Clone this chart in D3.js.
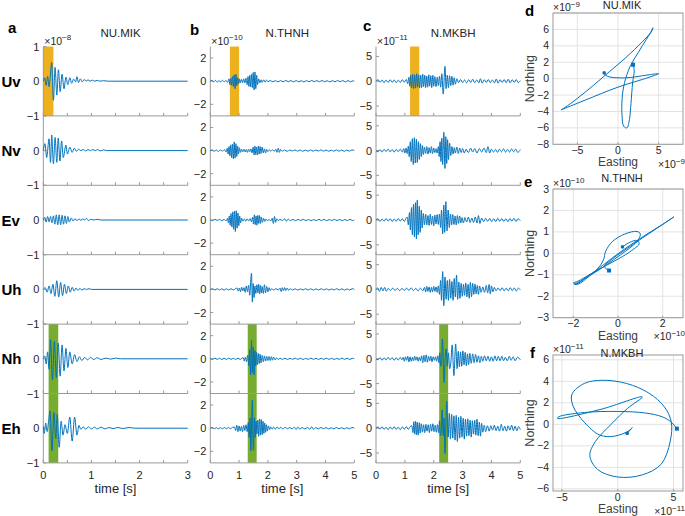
<!DOCTYPE html>
<html><head><meta charset="utf-8">
<script src="https://cdn.jsdelivr.net/npm/d3@7"></script>
<style>body{margin:0;background:#fff}svg{display:block}text{font-family:"Liberation Sans",Arial,sans-serif}</style>
</head><body><svg id="chart" width="685" height="516"></svg>
<script>
// ---------------- DATA ----------------
const components = ["Uv","Nv","Ev","Uh","Nh","Eh"];
const stations = ["NU.MIK","N.THNH","N.MKBH"];
const panelLetters = ["a","b","c"];
const hodoLetters = ["d","e","f"];
const timeMax = [3,5,5];
const timeTicks = [[0,0.5,1,1.5,2,2.5,3],[0,1,2,3,4,5],[0,1,2,3,4,5]];
const timeTickLabels = [[0,1,2,3],[0,1,2,3,4,5],[0,1,2,3,4,5]];
const ampMax = [1,3,7];
const ampTicks = [[-1,0,1],[-2,0,2],[-5,0,5]];
const ampExponent = [-8,-10,-11];
const pWindow = [[0,0.21],[0.68,1.0],[1.18,1.5]];   // orange (Uv)
const sWindow = [[0.11,0.31],[1.3,1.61],[2.19,2.5]]; // green (Nh, Eh)

// NU.MIK  (x1e-8)
const mikUv = [[0,0],[0.03,0.1],[0.06,-0.12],[0.09,0.14],[0.12,-0.16],[0.145,0.15],[0.175,0.54],[0.21,-0.55],[0.245,0.4],[0.28,-0.4],[0.315,0.33],[0.35,-0.3],[0.39,0.2],[0.43,-0.22],[0.47,0.12],[0.51,-0.1],[0.55,0.1],[0.59,-0.06],[0.63,0.06],[0.67,-0.02],[0.7,0.13],[0.73,-0.04],[0.77,0.07],[0.81,-0.02],[0.85,0.05],[0.89,0],[0.93,0.04],[0.97,0],[1.02,0.03],[1.07,0],[1.12,0.025],[1.18,0],[1.25,0.015],[1.35,0],[3,0]];
const mikNv = [[0,0],[0.035,0.2],[0.07,-0.2],[0.12,0.34],[0.15,-0.34],[0.175,0.45],[0.21,-0.38],[0.245,0.38],[0.28,-0.34],[0.31,0.36],[0.345,-0.3],[0.38,0.28],[0.415,-0.2],[0.47,0.16],[0.5,-0.1],[0.55,0.1],[0.6,-0.05],[0.645,0.07],[0.69,-0.02],[0.73,0.04],[0.78,0],[0.83,0.03],[0.88,-0.01],[0.93,0.03],[0.98,0],[1.03,0.03],[1.08,0],[1.13,0.03],[1.18,-0.01],[1.25,0.02],[1.32,0],[3,0]];
const mikEv = [[0,0],[0.03,0.08],[0.06,-0.06],[0.09,0.1],[0.12,-0.05],[0.15,0.1],[0.18,-0.08],[0.21,0.12],[0.24,-0.12],[0.27,0.15],[0.3,-0.14],[0.33,0.15],[0.36,-0.14],[0.39,0.14],[0.42,-0.12],[0.45,0.12],[0.48,-0.1],[0.51,0.1],[0.54,-0.06],[0.58,0.06],[0.62,-0.03],[0.66,0.04],[0.7,-0.02],[0.74,0.03],[0.78,-0.01],[0.82,0.03],[0.86,0],[0.9,0.05],[0.94,-0.02],[0.98,0.02],[1.05,0],[1.12,0.02],[1.2,0],[3,0]];
const mikUh = [[0,0],[0.04,0.05],[0.08,-0.08],[0.12,0.1],[0.16,-0.12],[0.2,0.15],[0.24,-0.2],[0.28,0.25],[0.32,-0.22],[0.36,0.2],[0.4,-0.18],[0.44,0.15],[0.48,-0.12],[0.52,0.1],[0.56,-0.08],[0.6,0.06],[0.64,-0.05],[0.68,0.04],[0.72,-0.03],[0.76,0.03],[0.8,-0.02],[0.85,0.02],[0.9,0],[0.95,0.02],[1.0,0],[3,0]];
const mikNh = [[0,0],[0.03,0.08],[0.06,-0.15],[0.09,0.2],[0.12,-0.3],[0.15,0.55],[0.19,-0.6],[0.23,0.5],[0.27,-0.55],[0.31,0.45],[0.35,-0.5],[0.39,0.4],[0.43,-0.35],[0.47,0.3],[0.51,-0.25],[0.55,0.2],[0.6,-0.15],[0.65,0.12],[0.7,-0.08],[0.75,0.06],[0.8,-0.05],[0.86,0.04],[0.92,-0.03],[0.98,0.04],[1.05,-0.02],[1.12,0.03],[1.2,-0.02],[1.3,0.02],[1.4,-0.01],[1.5,0.02],[1.6,0],[3,0]];
const mikEh = [[0,0.05],[0.02,-0.15],[0.05,0.15],[0.08,-0.1],[0.11,0.2],[0.14,0.5],[0.18,-0.65],[0.22,0.45],[0.26,-0.3],[0.29,0.4],[0.33,-0.55],[0.37,0.2],[0.41,-0.2],[0.45,0.1],[0.5,-0.15],[0.55,0.32],[0.6,-0.37],[0.65,0.32],[0.7,-0.2],[0.74,0.08],[0.78,-0.03],[0.83,0.04],[0.88,-0.03],[0.94,0.04],[1.0,-0.02],[1.06,0.03],[1.12,-0.02],[1.2,0.03],[1.28,-0.02],[1.36,0.02],[1.45,-0.01],[1.55,0.02],[1.65,-0.01],[1.78,0.02],[1.9,0],[3,0]];

// N.THNH  (x1e-10)
const thnUv = [[0,0],[0.06,0.08],[0.12,-0.06],[0.18,0.07],[0.24,-0.08],[0.3,0.06],[0.36,-0.07],[0.42,0.08],[0.48,-0.06],[0.54,0.07],[0.6,-0.1],[0.65,0.2],[0.68,-0.3],[0.71,0.25],[0.74,-0.35],[0.77,0.4],[0.8,-0.45],[0.83,0.55],[0.86,-0.65],[0.89,0.6],[0.92,-0.4],[0.95,0.3],[0.98,-0.25],[1.01,0.2],[1.04,-0.15],[1.08,0.15],[1.12,-0.12],[1.16,0.2],[1.2,-0.15],[1.24,0.25],[1.28,-0.3],[1.31,0.4],[1.34,-0.45],[1.37,0.5],[1.4,-0.5],[1.43,0.6],[1.46,-0.55],[1.49,0.75],[1.52,-0.75],[1.55,0.8],[1.58,-0.65],[1.61,0.5],[1.64,-0.3],[1.68,0.2],[1.72,-0.15],[1.76,0.12],[1.8,-0.1],[1.85,0.12],[1.9,-0.08],[1.95,0.1],[2.0,-0.05],[2.08,0.06],[2.17,-0.05],[2.26,0.05],[2.35,-0.06],[2.44,0.05],[2.53,-0.05],[2.62,0.06],[2.71,-0.04],[2.8,0.05],[2.89,-0.06],[2.98,0.05],[3.07,-0.05],[3.16,0.04],[3.25,-0.06],[3.34,0.05],[3.43,-0.05],[3.52,0.06],[3.61,-0.04],[3.7,0.05],[3.79,-0.05],[3.88,0.06],[3.97,-0.05],[4.06,0.04],[4.15,-0.06],[4.24,0.05],[4.33,-0.05],[4.42,0.06],[4.51,-0.04],[4.6,0.05],[4.69,-0.06],[4.78,0.05],[4.87,-0.05],[4.96,0.04],[5,0]];
const thnNv = [[0,0],[0.07,0.05],[0.14,-0.06],[0.21,0.05],[0.28,-0.07],[0.35,0.06],[0.42,-0.05],[0.49,0.08],[0.55,-0.12],[0.59,0.2],[0.62,-0.3],[0.65,0.35],[0.68,-0.45],[0.71,0.5],[0.74,-0.6],[0.77,0.55],[0.8,-0.7],[0.83,0.75],[0.86,-0.65],[0.89,0.6],[0.92,-0.5],[0.95,0.4],[0.98,-0.3],[1.01,0.25],[1.05,-0.15],[1.09,0.12],[1.13,-0.1],[1.17,0.12],[1.21,-0.12],[1.25,0.1],[1.29,-0.15],[1.33,0.12],[1.37,-0.1],[1.41,0.15],[1.45,-0.2],[1.49,0.3],[1.52,-0.38],[1.55,0.4],[1.58,-0.35],[1.61,0.3],[1.64,-0.38],[1.67,0.4],[1.7,-0.3],[1.73,0.35],[1.76,-0.25],[1.8,0.3],[1.84,-0.2],[1.88,0.15],[1.92,-0.2],[1.96,0.1],[2.0,-0.08],[2.05,0.06],[2.1,-0.05],[2.16,0.07],[2.22,-0.06],[2.28,0.1],[2.32,-0.15],[2.36,0.2],[2.4,-0.15],[2.44,0.1],[2.5,-0.05],[2.58,0.05],[2.67,-0.06],[2.76,0.05],[2.85,-0.04],[2.94,0.06],[3.03,-0.05],[3.12,0.05],[3.21,-0.06],[3.3,0.04],[3.39,-0.05],[3.48,0.06],[3.57,-0.05],[3.66,0.05],[3.75,-0.04],[3.84,0.06],[3.93,-0.05],[4.02,0.05],[4.11,-0.06],[4.2,0.04],[4.29,-0.05],[4.38,0.06],[4.47,-0.05],[4.56,0.05],[4.65,-0.06],[4.74,0.04],[4.83,-0.05],[4.92,0.06],[5,0]];
const thnEv = [[0,0],[0.08,-0.05],[0.16,0.06],[0.24,-0.04],[0.32,0.06],[0.4,-0.06],[0.48,0.05],[0.55,-0.08],[0.6,0.15],[0.63,-0.25],[0.66,0.35],[0.69,-0.45],[0.72,0.55],[0.75,-0.6],[0.78,0.7],[0.81,-0.8],[0.84,0.75],[0.87,-1.0],[0.9,0.8],[0.93,-0.7],[0.96,0.6],[0.99,-0.5],[1.02,0.35],[1.05,-0.25],[1.09,0.15],[1.13,-0.1],[1.18,0.08],[1.23,-0.1],[1.28,0.1],[1.33,-0.08],[1.38,0.12],[1.43,-0.15],[1.47,0.25],[1.5,-0.35],[1.53,0.45],[1.56,-0.4],[1.59,0.35],[1.62,-0.45],[1.65,0.4],[1.68,-0.3],[1.71,0.38],[1.74,-0.3],[1.77,0.25],[1.81,-0.2],[1.85,0.15],[1.89,-0.12],[1.93,0.08],[1.98,-0.06],[2.04,0.05],[2.1,-0.08],[2.15,0.15],[2.19,-0.3],[2.23,0.3],[2.27,-0.2],[2.31,0.1],[2.36,-0.05],[2.42,0.06],[2.5,-0.05],[2.58,0.1],[2.64,-0.1],[2.7,0.08],[2.78,-0.05],[2.87,0.05],[2.96,-0.06],[3.05,0.05],[3.14,-0.04],[3.23,0.06],[3.32,-0.05],[3.41,0.05],[3.5,-0.06],[3.59,0.04],[3.68,-0.05],[3.77,0.06],[3.86,-0.05],[3.95,0.05],[4.04,-0.06],[4.13,0.04],[4.22,-0.05],[4.31,0.06],[4.4,-0.05],[4.49,0.05],[4.58,-0.06],[4.67,0.04],[4.76,-0.05],[4.85,0.06],[4.94,-0.05],[5,0]];
const thnUh = [[0,0],[0.08,0.05],[0.16,-0.05],[0.24,0.06],[0.32,-0.04],[0.4,0.05],[0.48,-0.06],[0.56,0.05],[0.64,-0.05],[0.72,0.06],[0.8,-0.05],[0.87,0.06],[0.93,0.12],[0.97,-0.15],[1.01,0.12],[1.05,-0.2],[1.09,0.18],[1.13,-0.12],[1.17,0.15],[1.21,-0.25],[1.25,0.3],[1.29,-0.2],[1.33,0.35],[1.37,-0.5],[1.4,0.6],[1.43,1.4],[1.46,-1.1],[1.49,0.5],[1.52,-0.7],[1.55,0.3],[1.58,-0.35],[1.62,0.4],[1.65,-0.3],[1.68,0.45],[1.71,-0.4],[1.74,0.35],[1.77,-0.3],[1.8,0.25],[1.84,-0.35],[1.88,0.4],[1.92,-0.3],[1.96,0.25],[2.0,-0.2],[2.04,0.15],[2.08,-0.1],[2.13,0.06],[2.2,-0.05],[2.28,0.06],[2.36,-0.05],[2.42,0.12],[2.46,-0.18],[2.5,0.15],[2.54,-0.12],[2.58,0.15],[2.62,-0.1],[2.67,0.12],[2.72,-0.08],[2.78,0.06],[2.86,-0.05],[2.95,0.05],[3.04,-0.06],[3.13,0.04],[3.22,-0.05],[3.31,0.06],[3.4,-0.05],[3.49,0.05],[3.58,-0.06],[3.67,0.04],[3.76,-0.05],[3.85,0.06],[3.94,-0.05],[4.03,0.05],[4.12,-0.06],[4.21,0.04],[4.3,-0.05],[4.39,0.06],[4.48,-0.05],[4.57,0.05],[4.66,-0.06],[4.75,0.04],[4.84,-0.05],[4.93,0.06],[5,0]];
const thnNh = [[0,0],[0.08,-0.05],[0.16,0.06],[0.24,-0.05],[0.32,0.05],[0.4,-0.06],[0.48,0.04],[0.56,-0.05],[0.64,0.06],[0.72,-0.05],[0.8,0.05],[0.88,-0.06],[0.96,0.05],[1.04,-0.06],[1.1,0.06],[1.14,0.1],[1.18,-0.2],[1.22,0.15],[1.26,-0.25],[1.3,0.3],[1.34,-0.6],[1.37,0.8],[1.4,-1.4],[1.43,1.6],[1.46,-1.2],[1.49,1.0],[1.52,-1.4],[1.55,0.7],[1.58,-0.6],[1.61,0.55],[1.64,-0.5],[1.67,0.45],[1.7,-0.4],[1.73,0.4],[1.76,-0.35],[1.8,0.3],[1.84,-0.25],[1.88,0.25],[1.92,-0.2],[1.96,0.2],[2.0,-0.15],[2.04,0.2],[2.08,-0.15],[2.12,0.18],[2.16,-0.12],[2.2,0.15],[2.25,-0.1],[2.3,0.08],[2.36,-0.06],[2.42,0.06],[2.5,-0.05],[2.59,0.05],[2.68,-0.06],[2.77,0.04],[2.86,-0.05],[2.95,0.06],[3.04,-0.05],[3.13,0.05],[3.22,-0.06],[3.31,0.04],[3.4,-0.05],[3.49,0.06],[3.58,-0.05],[3.67,0.05],[3.76,-0.06],[3.85,0.04],[3.94,-0.05],[4.03,0.06],[4.12,-0.05],[4.21,0.05],[4.3,-0.06],[4.39,0.04],[4.48,-0.05],[4.57,0.06],[4.66,-0.05],[4.75,0.05],[4.84,-0.06],[4.93,0.04],[5,0]];
const thnEh = [[0,0],[0.07,0.06],[0.14,-0.05],[0.21,0.05],[0.28,-0.06],[0.35,0.05],[0.42,-0.05],[0.49,0.06],[0.56,-0.05],[0.63,0.06],[0.7,-0.05],[0.77,0.07],[0.84,0.1],[0.88,-0.2],[0.92,0.25],[0.96,-0.3],[1.0,0.2],[1.04,-0.25],[1.08,0.15],[1.12,-0.3],[1.16,0.25],[1.2,-0.2],[1.24,0.3],[1.28,-0.3],[1.32,0.5],[1.35,-0.8],[1.38,0.9],[1.41,-1.95],[1.44,1.2],[1.46,2.45],[1.48,-1.0],[1.5,-1.9],[1.53,0.9],[1.56,-0.8],[1.59,0.6],[1.62,-0.5],[1.65,0.7],[1.68,-0.7],[1.71,0.8],[1.74,-0.6],[1.77,0.75],[1.8,-0.55],[1.83,0.6],[1.86,-0.45],[1.89,0.45],[1.92,-0.35],[1.95,0.3],[1.98,-0.25],[2.02,0.2],[2.06,-0.12],[2.1,0.1],[2.15,-0.08],[2.2,0.1],[2.26,-0.08],[2.32,0.1],[2.38,-0.06],[2.44,0.08],[2.52,-0.06],[2.6,0.07],[2.68,-0.05],[2.76,0.06],[2.84,-0.06],[2.92,0.08],[2.98,-0.12],[3.04,0.1],[3.1,-0.06],[3.19,0.05],[3.28,-0.06],[3.37,0.05],[3.46,-0.08],[3.52,0.12],[3.58,-0.08],[3.66,0.05],[3.75,-0.05],[3.84,0.06],[3.93,-0.05],[4.02,0.05],[4.11,-0.06],[4.2,0.04],[4.29,-0.05],[4.38,0.06],[4.47,-0.05],[4.56,0.05],[4.65,-0.06],[4.74,0.04],[4.83,-0.05],[4.92,0.06],[5,0]];

// N.MKBH  (x1e-11)
const mkbUv = [[0,0],[0.07,0.3],[0.14,-0.2],[0.21,0.25],[0.28,-0.3],[0.35,0.2],[0.42,-0.25],[0.49,0.3],[0.56,-0.2],[0.63,0.25],[0.7,-0.3],[0.77,0.2],[0.84,-0.25],[0.91,0.3],[0.98,-0.2],[1.05,0.35],[1.1,-0.5],[1.14,0.8],[1.17,-1.0],[1.2,1.2],[1.23,-1.3],[1.27,1.4],[1.3,-1.5],[1.34,1.3],[1.37,-1.4],[1.41,1.5],[1.44,-1.2],[1.48,1.3],[1.51,-1.4],[1.55,1.2],[1.58,-1.3],[1.62,1.4],[1.65,-1.1],[1.69,1.2],[1.72,-1.3],[1.76,1.0],[1.79,-1.2],[1.83,1.3],[1.86,-1.0],[1.9,1.1],[1.93,-1.3],[1.97,1.2],[2.0,-1.0],[2.04,0.9],[2.08,-1.1],[2.12,0.8],[2.16,-0.9],[2.2,1.0],[2.24,-1.2],[2.28,1.5],[2.33,-2.6],[2.39,3.0],[2.43,-1.5],[2.47,1.2],[2.51,-1.3],[2.55,1.1],[2.59,-0.9],[2.63,1.0],[2.67,-0.8],[2.71,0.7],[2.75,-0.6],[2.8,0.5],[2.86,-0.3],[2.93,0.35],[3.0,-0.3],[3.07,0.25],[3.14,-0.35],[3.21,0.3],[3.28,-0.25],[3.35,0.4],[3.42,-0.3],[3.49,0.25],[3.56,-0.35],[3.62,0.5],[3.68,-0.4],[3.75,0.3],[3.82,-0.25],[3.89,0.35],[3.96,-0.3],[4.03,0.25],[4.1,-0.35],[4.17,0.45],[4.23,-0.4],[4.3,0.3],[4.37,-0.25],[4.44,0.35],[4.51,-0.3],[4.58,0.4],[4.65,-0.35],[4.72,0.3],[4.79,-0.25],[4.86,0.35],[4.93,-0.3],[5,0.1]];
const mkbNv = [[0,0],[0.07,-0.25],[0.14,0.2],[0.21,-0.3],[0.28,0.25],[0.35,-0.2],[0.42,0.3],[0.49,-0.25],[0.56,0.2],[0.63,-0.3],[0.7,0.25],[0.77,-0.2],[0.84,0.3],[0.91,-0.3],[0.96,0.4],[1.0,-0.5],[1.04,0.5],[1.08,-0.6],[1.12,0.9],[1.15,-1.2],[1.19,1.8],[1.22,-2.2],[1.26,2.4],[1.29,-2.8],[1.33,2.6],[1.36,-2.5],[1.4,2.3],[1.43,-2.4],[1.47,1.8],[1.5,-1.8],[1.54,1.4],[1.57,-1.2],[1.61,1.0],[1.64,-0.8],[1.68,0.7],[1.72,-0.6],[1.76,0.8],[1.8,-0.7],[1.84,0.6],[1.88,-0.5],[1.92,0.8],[1.96,-0.6],[2.0,0.5],[2.04,-0.4],[2.08,0.4],[2.12,-0.5],[2.16,0.8],[2.19,-1.2],[2.22,1.8],[2.25,-2.2],[2.28,2.5],[2.31,-2.8],[2.35,3.7],[2.39,-3.6],[2.42,2.8],[2.45,-2.6],[2.48,2.2],[2.51,-1.8],[2.55,1.5],[2.59,-1.0],[2.63,0.8],[2.67,-0.7],[2.71,0.6],[2.75,-0.5],[2.8,0.7],[2.85,-0.6],[2.9,0.5],[2.95,-0.4],[3.0,0.4],[3.06,-0.5],[3.12,0.3],[3.2,-0.4],[3.28,0.5],[3.35,-0.3],[3.42,0.4],[3.5,-0.5],[3.58,0.4],[3.66,-0.3],[3.74,0.5],[3.82,-0.4],[3.88,0.8],[3.94,-0.5],[4.0,0.3],[4.07,-0.3],[4.14,0.25],[4.21,-0.35],[4.28,0.3],[4.35,-0.25],[4.42,0.35],[4.49,-0.3],[4.56,0.25],[4.63,-0.3],[4.7,0.35],[4.77,-0.25],[4.84,0.3],[4.91,-0.35],[5,0.2]];
const mkbEv = [[0,0],[0.07,0.25],[0.14,-0.3],[0.21,0.2],[0.28,-0.25],[0.35,0.3],[0.42,-0.2],[0.49,0.25],[0.56,-0.3],[0.63,0.2],[0.7,-0.25],[0.77,0.3],[0.84,-0.2],[0.91,0.25],[0.98,-0.3],[1.04,0.35],[1.08,0.6],[1.12,-1.0],[1.16,1.5],[1.19,-2.0],[1.23,2.5],[1.26,-3.0],[1.3,3.2],[1.33,-3.4],[1.37,3.5],[1.4,-3.8],[1.43,4.0],[1.46,-3.0],[1.5,2.8],[1.53,-2.5],[1.57,2.0],[1.6,-1.6],[1.64,1.3],[1.68,-1.0],[1.72,1.2],[1.76,-1.0],[1.8,0.9],[1.84,-1.1],[1.88,1.2],[1.92,-0.9],[1.96,0.8],[2.0,-1.2],[2.04,1.0],[2.08,-0.8],[2.12,1.1],[2.16,-0.9],[2.2,1.2],[2.24,-1.5],[2.27,2.0],[2.31,-2.8],[2.35,3.0],[2.38,-2.5],[2.42,3.7],[2.46,-2.2],[2.5,2.0],[2.54,-1.5],[2.58,1.2],[2.62,-1.0],[2.66,1.1],[2.7,-0.9],[2.74,0.8],[2.78,-1.0],[2.82,0.9],[2.86,-0.7],[2.9,0.8],[2.94,-0.6],[2.98,0.5],[3.03,-0.6],[3.08,0.5],[3.14,-0.4],[3.2,0.6],[3.26,-0.5],[3.32,0.4],[3.38,-0.5],[3.44,0.6],[3.5,-0.6],[3.55,0.9],[3.6,-0.7],[3.66,0.4],[3.73,-0.3],[3.8,0.35],[3.87,-0.25],[3.94,0.3],[4.01,-0.35],[4.08,0.25],[4.15,-0.3],[4.22,0.35],[4.29,-0.25],[4.36,0.3],[4.43,-0.3],[4.5,0.25],[4.57,-0.35],[4.64,0.3],[4.71,-0.25],[4.78,0.35],[4.85,-0.3],[4.92,0.25],[5,-0.1]];
const mkbUh = [[0,0],[0.06,0.3],[0.12,-0.4],[0.18,0.4],[0.24,-0.3],[0.3,0.4],[0.36,-0.35],[0.42,0.2],[0.5,-0.2],[0.58,0.25],[0.66,-0.2],[0.74,0.2],[0.82,-0.25],[0.9,0.2],[0.98,-0.2],[1.06,0.25],[1.14,-0.2],[1.22,0.3],[1.3,-0.25],[1.38,0.2],[1.46,-0.3],[1.54,0.25],[1.62,-0.3],[1.68,0.4],[1.72,-0.5],[1.76,0.6],[1.8,-0.4],[1.84,0.5],[1.88,-0.6],[1.92,0.4],[1.96,-0.5],[2.0,0.6],[2.04,-0.4],[2.08,0.5],[2.12,-0.6],[2.16,0.7],[2.2,-1.0],[2.24,1.8],[2.27,-2.2],[2.31,3.6],[2.35,-3.3],[2.39,2.5],[2.43,-2.0],[2.47,1.8],[2.51,-2.2],[2.55,2.0],[2.59,-1.8],[2.63,1.6],[2.67,-2.2],[2.71,2.2],[2.75,-1.5],[2.79,2.9],[2.83,-2.0],[2.87,1.5],[2.91,-1.8],[2.95,1.2],[2.99,-1.4],[3.03,1.0],[3.07,-1.2],[3.11,1.3],[3.15,-1.5],[3.19,1.0],[3.23,-1.8],[3.27,1.4],[3.31,-1.5],[3.35,1.2],[3.39,-1.0],[3.43,1.1],[3.47,-0.9],[3.51,0.8],[3.55,-1.0],[3.59,0.7],[3.64,-0.6],[3.7,0.5],[3.76,-0.6],[3.82,0.8],[3.87,-0.7],[3.92,1.0],[3.96,-0.9],[4.0,0.7],[4.05,-0.5],[4.1,0.4],[4.16,-0.3],[4.23,0.3],[4.3,-0.25],[4.37,0.35],[4.44,-0.3],[4.51,0.25],[4.58,-0.3],[4.65,0.35],[4.72,-0.25],[4.79,0.3],[4.86,-0.35],[4.93,0.25],[5,-0.1]];
const mkbNh = [[0,0],[0.07,-0.2],[0.14,0.25],[0.21,-0.3],[0.28,0.2],[0.35,-0.25],[0.42,0.3],[0.49,-0.2],[0.56,0.25],[0.63,-0.3],[0.7,0.2],[0.77,-0.25],[0.84,0.3],[0.9,-0.2],[0.94,0.3],[0.98,-0.5],[1.02,0.4],[1.06,-0.3],[1.1,0.5],[1.14,-0.6],[1.18,0.4],[1.22,-0.5],[1.26,0.3],[1.3,-0.4],[1.34,0.5],[1.38,-0.3],[1.42,0.4],[1.46,-0.5],[1.5,0.3],[1.54,-0.4],[1.58,0.6],[1.62,-0.8],[1.66,0.7],[1.7,-0.6],[1.74,0.8],[1.78,-0.7],[1.82,0.5],[1.86,-0.4],[1.9,0.5],[1.94,-0.6],[1.98,0.4],[2.02,-0.3],[2.06,0.4],[2.1,-0.5],[2.14,0.6],[2.18,-0.8],[2.21,1.2],[2.24,-1.5],[2.27,-1.2],[2.3,4.0],[2.36,-4.8],[2.4,0.5],[2.43,2.0],[2.47,-1.5],[2.51,1.2],[2.55,-2.0],[2.59,-1.0],[2.64,2.8],[2.7,-3.4],[2.76,3.0],[2.81,-2.0],[2.85,1.5],[2.89,-1.6],[2.93,1.4],[2.97,-1.5],[3.01,1.6],[3.05,-1.2],[3.09,1.3],[3.13,-1.4],[3.17,1.0],[3.21,-1.2],[3.25,1.1],[3.3,-0.9],[3.35,1.0],[3.4,-0.8],[3.45,0.9],[3.5,-0.7],[3.55,0.6],[3.6,-0.8],[3.65,0.5],[3.7,-0.5],[3.76,0.6],[3.82,-0.4],[3.88,0.5],[3.94,-0.5],[4.0,0.4],[4.06,-0.5],[4.12,0.6],[4.18,-0.4],[4.24,0.5],[4.3,-0.4],[4.36,0.5],[4.42,-0.4],[4.48,0.3],[4.55,-0.4],[4.62,0.5],[4.68,-0.3],[4.75,0.4],[4.82,-0.4],[4.9,0.3],[5,-0.2]];
const mkbEh = [[0,0],[0.07,0.25],[0.14,-0.2],[0.21,0.3],[0.28,-0.25],[0.35,0.2],[0.42,-0.3],[0.49,0.25],[0.56,-0.2],[0.63,0.3],[0.7,-0.25],[0.77,0.2],[0.84,-0.3],[0.91,0.25],[0.98,-0.2],[1.05,0.3],[1.12,-0.25],[1.18,0.3],[1.24,0.5],[1.28,-0.9],[1.31,1.3],[1.34,-1.2],[1.37,1.4],[1.4,-1.3],[1.43,1.2],[1.46,-1.4],[1.5,1.1],[1.53,-1.0],[1.57,0.9],[1.61,-0.8],[1.65,0.7],[1.69,-0.9],[1.73,0.8],[1.77,-0.6],[1.81,0.7],[1.85,-0.9],[1.89,0.8],[1.93,-0.6],[1.97,0.9],[2.01,-0.7],[2.05,0.6],[2.09,-0.8],[2.13,0.7],[2.17,-0.9],[2.2,1.5],[2.23,-1.5],[2.26,-0.8],[2.29,3.7],[2.33,-1.5],[2.36,2.0],[2.39,-5.1],[2.45,5.4],[2.5,-1.8],[2.54,3.0],[2.58,-2.2],[2.62,2.8],[2.66,-2.0],[2.7,2.5],[2.74,-2.4],[2.78,2.6],[2.82,-2.7],[2.86,2.2],[2.9,-2.0],[2.94,2.4],[2.98,-1.8],[3.02,2.0],[3.06,-2.2],[3.1,1.8],[3.14,-1.6],[3.18,1.9],[3.22,-1.5],[3.26,1.6],[3.3,-1.8],[3.34,1.5],[3.38,-1.2],[3.42,1.6],[3.46,-1.4],[3.5,1.8],[3.54,-1.5],[3.58,1.2],[3.62,-1.6],[3.66,1.0],[3.7,-0.8],[3.75,0.6],[3.8,-0.7],[3.86,0.5],[3.92,-0.6],[3.98,0.5],[4.04,-0.4],[4.1,0.6],[4.16,-0.5],[4.22,0.4],[4.28,-0.6],[4.34,0.8],[4.4,-0.5],[4.46,0.4],[4.52,-0.6],[4.58,0.5],[4.64,-0.4],[4.7,0.6],[4.76,-0.5],[4.82,0.4],[4.88,-0.5],[4.94,0.3],[5,-0.3]];

const traces = [
  [mikUv, mikNv, mikEv, mikUh, mikNh, mikEh],
  [thnUv, thnNv, thnEv, thnUh, thnNh, thnEh],
  [mkbUv, mkbNv, mkbEv, mkbUh, mkbNh, mkbEh]
];

// Hodograms: [Easting, Northing]
const hodoMIK = [[-1.7,0.7],[-1.5,0.4],[-1,0.2],[0,0.1],[1,0.1],[2,0.2],[3,0.35],[4,0.5],[5,0.6],[4.5,0.4],[3,-0.1],[1,-0.7],[-1,-1.4],[-3,-2.2],[-5,-3],[-6.5,-3.6],[-7,-3.8],[-6.5,-3.5],[-5,-2.4],[-3,-0.8],[-1,0.9],[1,2.6],[3,4.5],[4,5.6],[4.3,6.2],[4.2,5.9],[3.5,4.8],[2.5,3.2],[1.5,1.5],[0.8,-0.5],[0.5,-2.5],[0.5,-4.5],[0.7,-5.8],[1.1,-6],[1.4,-5],[1.6,-3],[1.8,-0.5],[2.0,1.0],[1.85,1.7]];
const hodoTHNH = [[0.2,0.3],[0.5,0.5],[0.85,0.6],[0.95,0.45],[0.7,0.2],[0.2,-0.15],[-0.5,-0.55],[-1.2,-0.95],[-1.8,-1.3],[-2.0,-1.38],[-1.85,-1.42],[-1.4,-1.1],[-0.9,-0.7],[-0.65,-0.3],[-0.55,0.1],[-0.25,0.55],[0.3,0.9],[0.85,1.02],[1.0,0.9],[0.85,0.55],[0.4,0.15],[-0.2,-0.3],[-0.9,-0.8],[-1.6,-1.25],[-1.95,-1.45],[-1.75,-1.42],[-1.1,-0.9],[-0.3,-0.25],[0.5,0.35],[1.3,0.9],[2.0,1.35],[2.5,1.7],[1.9,1.28],[1.1,0.72],[0.3,0.15],[-0.3,-0.3],[-0.6,-0.6],[-0.5,-0.75],[-0.4,-0.8]];
const hodoMKBH = [[0.85,-0.85],[1.3,-0.3],[1.0,-0.6],[-0.3,-1.1],[-1.6,-1.0],[-3.0,0.2],[-4.0,1.7],[-4.1,2.8],[-3.0,3.8],[-1.4,4.1],[0.8,3.8],[2.8,2.9],[4.2,1.6],[4.8,0.2],[4.7,-1.6],[3.9,-3.7],[2.2,-4.7],[0.0,-4.9],[-1.8,-4.2],[-2.5,-2.9],[-2.0,-1.6],[-0.6,0.0],[0.9,1.5],[2.2,2.55],[-1.5,1.4],[-5.4,0.55],[-5.3,0.7],[-3,1.1],[0,1.2],[2.5,1.05],[4.0,0.7],[4.8,0.2],[5.3,-0.4]];
const hodoData = [hodoMIK, hodoTHNH, hodoMKBH];
const hodoXDomain = [[-8,8],[-2.91,2.91],[-5.8,5.85]];
const hodoYDomain = [[-8,8],[-3,3],[-6.2,6.45]];
const hodoXTicks = [[-5,0,5],[-2,0,2],[-5,0,5]];
const hodoYTicks = [[-8,-6,-4,-2,0,2,4,6,8],[-3,-2,-1,0,1,2,3],[-6,-4,-2,0,2,4,6]];
const hodoYLabels = [[-8,-6,-4,-2,0,2,4,6],[-3,-2,-1,0,1,2,3],[-6,-4,-2,0,2,4,6]];
const hodoExp = [-9,-10,-11];

// ---------------- LAYOUT ----------------
const svg = d3.select("#chart");
const BLUE = "#0072BD", ORANGE = "#EDB120", GREEN = "#77AC30";
const AXIS = "#9a9a9a", TXT = "#262626";
const colX = [[43.3,187.7],[210.3,354.3],[376,520.3]];
const top0 = 46.5, rowH = 69.4;
const fmt = v => v < 0 ? "\u2212" + Math.abs(v) : String(v);

function expLabel(g, x, y, e, anchor) {
  const t = g.append("text").attr("x", x).attr("y", y).attr("fill", TXT)
    .attr("font-size", 10.5).attr("text-anchor", anchor || "start");
  t.append("tspan").text("\u00d710");
  t.append("tspan").attr("dy", -4.5).attr("font-size", 8).text(fmt(e));
}

const line = d3.line().curve(d3.curveMonotoneX);

for (let c = 0; c < 3; c++) {
  const x = d3.scaleLinear().domain([0, timeMax[c]]).range(colX[c]);
  const g = svg.append("g");
  for (let r = 0; r < 6; r++) {
    const y = d3.scaleLinear().domain([-ampMax[c], ampMax[c]]).range([top0 + (r+1)*rowH, top0 + r*rowH]);
    let win = null, col = null;
    if (r === 0) { win = pWindow[c]; col = ORANGE; }
    if (r === 4 || r === 5) { win = sWindow[c]; col = GREEN; }
    if (win) g.append("rect").attr("x", x(win[0])).attr("width", x(win[1]) - x(win[0]))
      .attr("y", y(ampMax[c])).attr("height", y(-ampMax[c]) - y(ampMax[c])).attr("fill", col);
  }
  g.append("line").attr("x1", colX[c][0]).attr("x2", colX[c][0]).attr("y1", top0).attr("y2", top0 + 6*rowH)
    .attr("stroke", AXIS).attr("stroke-width", 1);
  for (let r = 0; r < 6; r++) {
    const y = d3.scaleLinear().domain([-ampMax[c], ampMax[c]]).range([top0 + (r+1)*rowH, top0 + r*rowH]);
    const yb = y(-ampMax[c]);
    g.append("line").attr("x1", colX[c][0]).attr("x2", colX[c][1]).attr("y1", yb).attr("y2", yb)
      .attr("stroke", AXIS).attr("stroke-width", 1);
    timeTicks[c].forEach(t => g.append("line").attr("x1", x(t)).attr("x2", x(t)).attr("y1", yb).attr("y2", yb - 3)
      .attr("stroke", AXIS));
    ampTicks[c].forEach(v => {
      g.append("line").attr("x1", colX[c][0]).attr("x2", colX[c][0] + 3).attr("y1", y(v)).attr("y2", y(v)).attr("stroke", AXIS);
      if (v === ampMax[c] && r > 0) return;
      g.append("text").attr("x", colX[c][0] - 4).attr("y", y(v) + 4).attr("text-anchor", "end")
        .attr("font-size", 11).attr("fill", TXT).text(fmt(v));
    });
    g.append("path").attr("d", line(traces[c][r].map(d => [x(d[0]), y(d[1])])))
      .attr("fill", "none").attr("stroke", BLUE).attr("stroke-width", 1);
    if (c === 0) {
      svg.append("text").attr("x", 1.5).attr("y", (y(0)) + 5.5).attr("font-size", 15).attr("font-weight", "bold")
        .attr("fill", "#000").text(components[r]);
    }
  }
  const yBottom = top0 + 6*rowH;
  timeTickLabels[c].forEach(t => g.append("text").attr("x", x(t)).attr("y", yBottom + 16).attr("text-anchor", "middle")
    .attr("font-size", 11).attr("fill", TXT).text(t));
  g.append("text").attr("x", (colX[c][0] + colX[c][1]) / 2).attr("y", yBottom + 30).attr("text-anchor", "middle")
    .attr("font-size", 13).attr("fill", TXT).text("time [s]");
  g.append("text").attr("x", (colX[c][0] + colX[c][1]) / 2 + 5).attr("y", 37).attr("text-anchor", "middle")
    .attr("font-size", 11.5).attr("fill", TXT).text(stations[c]);
  const letterPos = [[8,33],[190,34.5],[363,31]];
  g.append("text").attr("x", letterPos[c][0]).attr("y", letterPos[c][1]).attr("font-size", 15).attr("font-weight", "bold")
    .attr("fill", "#000").text(panelLetters[c]);
  expLabel(g, colX[c][0] + 1, top0 - 2, ampExponent[c]);
}

// hodograms
const hBoxes = [[553,683,13,144.3],[553,683,189,317.7],[553,683,355,491]];
const hLetter = [[525,16],[524,186.5],[530,358]];
const hTitleY = [8.5,182,356.5];
const hEastY = [166,339.5,512.5];
const hExpY = [168,340,515];
for (let k = 0; k < 3; k++) {
  const [x0,x1,y0,y1] = hBoxes[k];
  const x = d3.scaleLinear().domain(hodoXDomain[k]).range([x0, x1]);
  const y = d3.scaleLinear().domain(hodoYDomain[k]).range([y1, y0]);
  const g = svg.append("g");
  hodoXTicks[k].forEach(v => g.append("line").attr("x1", x(v)).attr("x2", x(v)).attr("y1", y0).attr("y2", y1)
    .attr("stroke", "#e3e3e3"));
  hodoYTicks[k].forEach(v => g.append("line").attr("x1", x0).attr("x2", x1).attr("y1", y(v)).attr("y2", y(v))
    .attr("stroke", "#e3e3e3"));
  g.append("rect").attr("x", x0).attr("y", y0).attr("width", x1 - x0).attr("height", y1 - y0)
    .attr("fill", "none").attr("stroke", AXIS);
  hodoXTicks[k].forEach(v => {
    g.append("line").attr("x1", x(v)).attr("x2", x(v)).attr("y1", y1).attr("y2", y1 - 2).attr("stroke", AXIS);
    g.append("text").attr("x", x(v)).attr("y", y1 + 9.5).attr("text-anchor", "middle").attr("font-size", 10.5)
      .attr("fill", TXT).text(fmt(v));
  });
  hodoYLabels[k].forEach(v => g.append("text").attr("x", x0 - 4).attr("y", y(v) + 3.5).attr("text-anchor", "end")
    .attr("font-size", 10.5).attr("fill", TXT).text(fmt(v)));
  const pts = hodoData[k].map(d => [x(d[0]), y(d[1])]);
  g.append("path").attr("d", d3.line().curve(d3.curveCatmullRom.alpha(0.5))(pts))
    .attr("fill", "none").attr("stroke", BLUE).attr("stroke-width", 1);
  g.append("circle").attr("cx", pts[0][0]).attr("cy", pts[0][1]).attr("r", 1.8).attr("fill", BLUE);
  const L = pts[pts.length - 1];
  g.append("rect").attr("x", L[0] - 2).attr("y", L[1] - 2).attr("width", 4).attr("height", 4).attr("fill", BLUE);
  g.append("text").attr("x", 622).attr("y", hTitleY[k]).attr("text-anchor", "middle").attr("font-size", 11)
    .attr("fill", TXT).text(stations[k]);
  g.append("text").attr("x", hLetter[k][0]).attr("y", hLetter[k][1]).attr("font-size", 15).attr("font-weight", "bold")
    .attr("fill", "#000").text(hodoLetters[k]);
  expLabel(g, x0, y0 - 2, hodoExp[k]);
  expLabel(g, x1 + 2, hExpY[k], hodoExp[k], "end");
  g.append("text").attr("x", (x0 + x1) / 2).attr("y", hEastY[k]).attr("text-anchor", "middle").attr("font-size", 12)
    .attr("fill", "#404040").text("Easting");
  g.append("text").attr("transform", `translate(${x0 - 19},${(y0 + y1) / 2}) rotate(-90)`).attr("text-anchor", "middle")
    .attr("font-size", 12.5).attr("fill", "#404040").text("Northing");
}
</script></body></html>
